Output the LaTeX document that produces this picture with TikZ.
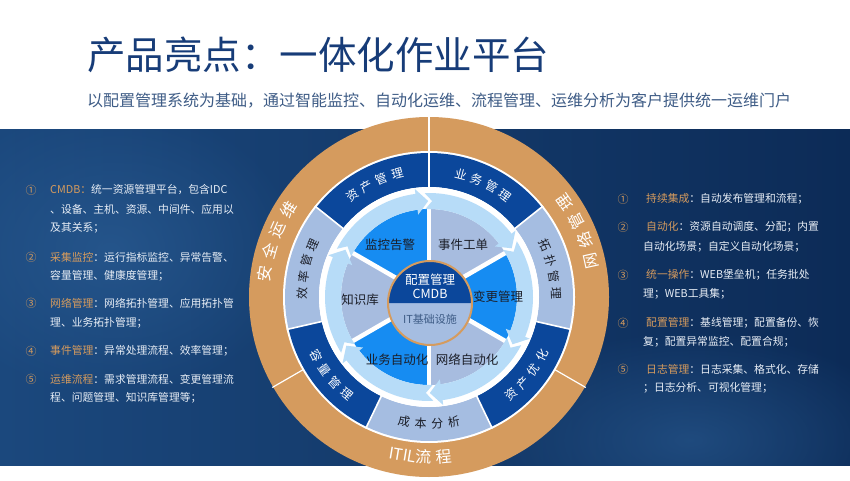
\documentclass[tikz,border=0pt]{standalone}
\usepackage{fontspec}
\setmainfont{Noto Sans CJK SC}
\usetikzlibrary{fadings}

\definecolor{titleblue}{HTML}{173C78}
\definecolor{subgrey}{HTML}{3E5C86}
\definecolor{ochre}{HTML}{D59B5E}
\definecolor{bgleft}{HTML}{1B487D}
\definecolor{bgright}{HTML}{0C2B57}
\definecolor{glow}{HTML}{2A5C93}
\definecolor{darkseg}{HTML}{0B479B}
\definecolor{lightseg}{HTML}{A5BDE1}
\definecolor{brightseg}{HTML}{168CF2}
\definecolor{greyseg}{HTML}{A7BCDF}
\definecolor{band}{HTML}{B7DCF8}
\definecolor{itemtext}{HTML}{E8EEF6}
\definecolor{inktext}{HTML}{1B1E28}

\tikzfading[name=softglow,inner color=transparent!0,outer color=transparent!100]

\tikzset{
  ttl/.style={font=\fontsize{38.5}{40}\selectfont,text=titleblue,anchor=west,inner sep=0},
  sub/.style={font=\fontsize{16}{18}\selectfont,text=subgrey,anchor=west,inner sep=0},
  num/.style={font=\fontsize{11}{12}\selectfont,text=ochre,inner sep=0},
  item/.style={font=\fontsize{10.8}{12}\selectfont,text=itemtext,anchor=west,inner sep=0},
  wlab/.style={font=\fontsize{12}{13}\selectfont,text=white,inner sep=0},
  dlab/.style={font=\fontsize{12}{13}\selectfont,text=inktext,inner sep=0},
  olab/.style={font=\fontsize{16}{17}\selectfont,text=white,inner sep=0},
  seclab/.style={font=\fontsize{12.5}{13}\selectfont,text=inktext,inner sep=0}
}

\newcommand{\arcword}[7]{%
  \foreach \ch [count=\k] in {#7} {
    \pgfmathsetmacro\ang{#3+(\k-1)*(#4)}
    \node[#6,rotate={\ang+(#5)}] (#1-\k) at (\ang:#2) {\ch};
  }}

\begin{document}
\begin{tikzpicture}[x=1pt,y=1pt]
  \useasboundingbox (0,0) rectangle (850,480);
  \fill[white] (0,0) rectangle (850,480);
  \shade[left color=bgleft,right color=bgright] (0,15) rectangle (850,350);
  \begin{scope}
    \clip (0,15) rectangle (850,350);
    \fill[glow,path fading=softglow,fill opacity=0.7] (110,230) ellipse (190 and 150);
    \fill[glow,path fading=softglow,fill opacity=0.6] (690,40) ellipse (220 and 110);
  \end{scope}

  \node[ttl] (title) at (87,425) {产品亮点：一体化作业平台};
  \node[sub] (subtitle) at (87,379) {以配置管理系统为基础，通过智能监控、自动化运维、流程管理、运维分析为客户提供统一运维门户};

  \node[num] (ln1) at (31,290) {①};
  \node[item] (l1a) at (50,290) {\textcolor{ochre}{CMDB：}统一资源管理平台，包含IDC};
  \node[item] (l1b) at (50,271) {、设备、主机、资源、中间件、应用以};
  \node[item] (l1c) at (50,252) {及其关系；};
  \node[num] (ln2) at (31,223) {②};
  \node[item] (l2a) at (50,223) {\textcolor{ochre}{采集监控}：运行指标监控、异常告警、};
  \node[item] (l2b) at (50,204) {容量管理、健康度管理；};
  \node[num] (ln3) at (31,177) {③};
  \node[item] (l3a) at (50,177) {\textcolor{ochre}{网络管理}：网络拓扑管理、应用拓扑管};
  \node[item] (l3b) at (50,157) {理、业务拓扑管理；};
  \node[num] (ln4) at (31,129) {④};
  \node[item] (l4a) at (50,129) {\textcolor{ochre}{事件管理}：异常处理流程、效率管理；};
  \node[num] (ln5) at (31,101) {⑤};
  \node[item] (l5a) at (50,101) {\textcolor{ochre}{运维流程}：需求管理流程、变更管理流};
  \node[item] (l5b) at (50,82) {程、问题管理、知识库管理等；};

  \node[num] (rn1) at (623,281) {①};
  \node[item] (r1a) at (646,281) {\textcolor{ochre}{持续集成}：自动发布管理和流程；};
  \node[num] (rn2) at (623,253) {②};
  \node[item] (r2a) at (646,253) {\textcolor{ochre}{自动化}：资源自动调度、分配；内置};
  \node[item] (r2b) at (643,233) {自动化场景；自定义自动化场景；};
  \node[num] (rn3) at (623,205) {③};
  \node[item] (r3a) at (646,205) {\textcolor{ochre}{统一操作}：WEB堡垒机；任务批处};
  \node[item] (r3b) at (643,186) {理；WEB工具集；};
  \node[num] (rn4) at (623,157) {④};
  \node[item] (r4a) at (646,157) {\textcolor{ochre}{配置管理}：基线管理；配置备份、恢};
  \node[item] (r4b) at (643,138) {复；配置异常监控、配置合规；};
  \node[num] (rn5) at (623,111) {⑤};
  \node[item] (r5a) at (646,111) {\textcolor{ochre}{日志管理}：日志采集、格式化、存储};
  \node[item] (r5b) at (643,92) {；日志分析、可视化管理；};

  \begin{scope}[shift={(429,183)}]
    \fill[ochre] (0,0) circle (180);
    \fill[white] (0,0) circle (146);
    \foreach \a/\c in {90/darkseg,38.57/lightseg,-12.86/darkseg,-64.29/lightseg,-115.71/darkseg,-167.14/lightseg,-218.57/darkseg}
      \fill[\c] (\a:110) -- (\a:144) arc[start angle=\a,end angle=\a-51.43,radius=144] -- ({\a-51.43}:110) arc[start angle=\a-51.43,end angle=\a,radius=110] -- cycle;
    \foreach \a in {90,38.57,-12.86,-64.29,-115.71,-167.14,-218.57}
      \draw[white,line width=1.6] (\a:108) -- (\a:146);
    \foreach \a in {90,210,330}
      \draw[white,line width=1.2] (\a:145) -- (\a:181);
    \fill[white] (0,0) circle (110);
    \foreach \a/\c in {150/brightseg,90/greyseg,30/brightseg,-30/greyseg,-90/brightseg,-150/greyseg}
      \fill[\c] (0,0) -- (\a:88) arc[start angle=\a,end angle=\a-60,radius=88] -- cycle;
    \foreach \b in {150,90,30,-30,-90,-150}
      \draw[white,line width=4.5] (\b:30) -- (\b:90);
    \foreach \b in {150,90,30,-30,-90,-150}
      \fill[band] ({\b+2.4}:104) arc[start angle=\b+2.4,end angle=\b-52.5,radius=104] -- ({\b-52.5}:109) -- ({\b-59.5}:96) -- ({\b-52.5}:83) -- ({\b-52.5}:88) arc[start angle=\b-52.5,end angle=\b+2.4,radius=88] -- ({\b-1.9}:96) -- cycle;

    \begin{scope}[shift={(1,-6)}]
      \fill[lightseg] (0,0) circle (42);
      \fill[darkseg] (42,0) arc[start angle=0,end angle=180,radius=42] -- cycle;
      \draw[ochre,line width=2] (0,0) circle (42);
      \node[font=\fontsize{12.5}{13}\selectfont,text=white,inner sep=0] (cmdb1) at (0,23) {配置管理};
      \node[font=\fontsize{12.5}{13}\selectfont,text=white,inner sep=0] (cmdb2) at (0,9) {CMDB};
      \node[font=\fontsize{11}{12}\selectfont,text=subgrey,inner sep=0] (itbase) at (0,-16) {IT基础设施};
    \end{scope}

    \node[seclab] (jkgj) at (-39,52) {监控告警};
    \node[seclab] (sjgd) at (34,52) {事件工单};
    \node[seclab] (bggl) at (69,0) {变更管理};
    \node[seclab] (zsk) at (-69,-3) {知识库};
    \node[seclab] (ywzd) at (-32,-63) {业务自动化};
    \node[seclab] (wlzd) at (38,-63) {网络自动化};

    \arcword{zcgl}{127}{127}{-7.5}{-90}{wlab}{资,产,管,理}
    \arcword{ywgl}{127}{75.5}{-7.5}{-90}{wlab}{业,务,管,理}
    \arcword{tpgl}{127}{24.2}{-7.5}{-90}{dlab}{拓,扑,管,理}
    \arcword{xlgl}{127}{178.4}{-7.5}{-90}{dlab}{效,率,管,理}
    \arcword{zcyh}{127}{-49.9}{7.5}{90}{wlab}{资,产,优,化}
    \arcword{cbfx}{127}{-101.25}{7.5}{90}{dlab}{成,本,分,析}
    \arcword{rlgl}{127}{-152.7}{7.5}{90}{wlab}{容,量,管,理}

    \arcword{aqyw}{166}{172}{-8}{-90}{olab}{安,全,运,维}
    \arcword{wlgl}{166}{12.5}{7.4}{90}{olab}{网,络,管,理}
    \node[olab,rotate=-9.4] (itil) at (-99.4:160) {ITIL};
    \arcword{lc}{160}{-92}{7.2}{90}{olab}{流,程}
  \end{scope}
\end{tikzpicture}
\end{document}
